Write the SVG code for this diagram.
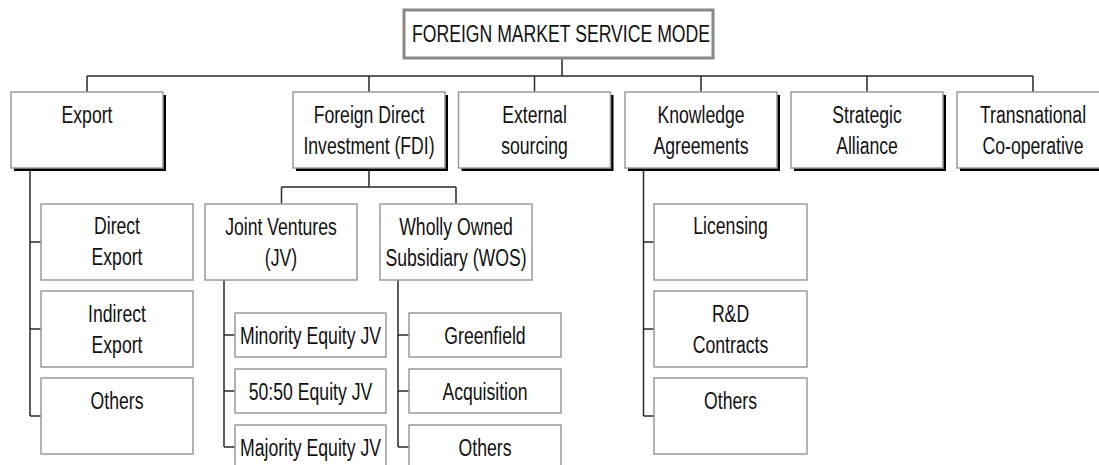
<svg xmlns="http://www.w3.org/2000/svg" width="1099" height="465" viewBox="0 0 1099 465">
<style>
.bg{fill:#fff}
.box{fill:#fff;stroke:#9a9a9a;stroke-width:1.5}
.top{fill:#fff;stroke:#888;stroke-width:3}
.sh{fill:#000}
.ln{fill:none;stroke:#2a2a2a;stroke-width:1.5}
text{font-family:"Liberation Sans",Arial,sans-serif;font-size:24.5px;fill:#111;text-anchor:middle}
</style>
<rect class="bg" x="0" y="0" width="1099" height="465"/>
<g id="connectors">
<path class="ln" d="M562,59V76M87,76H1033M87,76V92M369,76V92M534.5,76V92M701,76V92M867,76V92M1033,76V92"/>
<path class="ln" d="M30,168V416M30,242H41M30,329H41M30,416H41"/>
<path class="ln" d="M369,168V187M281.5,187H456M281.5,187V204M456,187V204"/>
<path class="ln" d="M224,280V447M224,335H235M224,391H235M224,447H235"/>
<path class="ln" d="M398,280V447M398,335H409M398,391H409M398,447H409"/>
<path class="ln" d="M643.5,168V416M643.5,242H654M643.5,329H654M643.5,416H654"/>
</g>
<g id="root">
<rect class="top" x="404" y="10" width="309" height="48"/>
<text transform="translate(561 42) scale(0.72 1)">FOREIGN MARKET SERVICE MODE</text>
</g>
<g id="export">
<rect class="sh" x="14" y="95" width="152" height="76"/>
<rect class="box" x="11" y="92" width="152" height="76"/>
<text transform="translate(87 123) scale(0.72 1)">Export</text>
</g>
<g id="fdi">
<rect class="sh" x="296" y="95" width="152" height="76"/>
<rect class="box" x="293" y="92" width="152" height="76"/>
<text transform="translate(369 123) scale(0.72 1)">Foreign Direct</text>
<text transform="translate(369 154) scale(0.72 1)">Investment (FDI)</text>
</g>
<g id="external">
<rect class="sh" x="461.5" y="95" width="152" height="76"/>
<rect class="box" x="458.5" y="92" width="152" height="76"/>
<text transform="translate(534.5 123) scale(0.72 1)">External</text>
<text transform="translate(534.5 154) scale(0.72 1)">sourcing</text>
</g>
<g id="knowledge">
<rect class="sh" x="628" y="95" width="152" height="76"/>
<rect class="box" x="625" y="92" width="152" height="76"/>
<text transform="translate(701 123) scale(0.72 1)">Knowledge</text>
<text transform="translate(701 154) scale(0.72 1)">Agreements</text>
</g>
<g id="strategic">
<rect class="sh" x="794" y="95" width="152" height="76"/>
<rect class="box" x="791" y="92" width="152" height="76"/>
<text transform="translate(867 123) scale(0.72 1)">Strategic</text>
<text transform="translate(867 154) scale(0.72 1)">Alliance</text>
</g>
<g id="transnational">
<rect class="sh" x="960" y="95" width="152" height="76"/>
<rect class="box" x="957" y="92" width="152" height="76"/>
<text transform="translate(1033 123) scale(0.72 1)">Transnational</text>
<text transform="translate(1033 154) scale(0.72 1)">Co-operative</text>
</g>
<g id="direct-export">
<rect class="box" x="41" y="204" width="152" height="76"/>
<text transform="translate(117 234) scale(0.72 1)">Direct</text>
<text transform="translate(117 265) scale(0.72 1)">Export</text>
</g>
<g id="indirect-export">
<rect class="box" x="41" y="291" width="152" height="76"/>
<text transform="translate(117 322) scale(0.72 1)">Indirect</text>
<text transform="translate(117 353) scale(0.72 1)">Export</text>
</g>
<g id="export-others">
<rect class="box" x="41" y="378" width="152" height="76"/>
<text transform="translate(117 409) scale(0.72 1)">Others</text>
</g>
<g id="jv">
<rect class="box" x="205" y="204" width="152" height="76"/>
<text transform="translate(281 235) scale(0.72 1)">Joint Ventures</text>
<text transform="translate(281 266) scale(0.72 1)">(JV)</text>
</g>
<g id="wos">
<rect class="box" x="380" y="204" width="152" height="76"/>
<text transform="translate(456 235) scale(0.72 1)">Wholly Owned</text>
<text transform="translate(456 266) scale(0.72 1)">Subsidiary (WOS)</text>
</g>
<g id="minority-jv">
<rect class="box" x="235" y="313" width="151" height="44"/>
<text transform="translate(310.5 344) scale(0.72 1)">Minority Equity JV</text>
</g>
<g id="equal-jv">
<rect class="box" x="235" y="369" width="151" height="44"/>
<text transform="translate(310.5 400) scale(0.72 1)">50:50 Equity JV</text>
</g>
<g id="majority-jv">
<rect class="box" x="235" y="425" width="151" height="44"/>
<text transform="translate(310.5 456) scale(0.72 1)">Majority Equity JV</text>
</g>
<g id="greenfield">
<rect class="box" x="409" y="313" width="152" height="44"/>
<text transform="translate(485 344) scale(0.72 1)">Greenfield</text>
</g>
<g id="acquisition">
<rect class="box" x="409" y="369" width="152" height="44"/>
<text transform="translate(485 400) scale(0.72 1)">Acquisition</text>
</g>
<g id="wos-others">
<rect class="box" x="409" y="425" width="152" height="44"/>
<text transform="translate(485 456) scale(0.72 1)">Others</text>
</g>
<g id="licensing">
<rect class="box" x="654" y="204" width="153" height="76"/>
<text transform="translate(730.5 234) scale(0.72 1)">Licensing</text>
</g>
<g id="rd-contracts">
<rect class="box" x="654" y="291" width="153" height="76"/>
<text transform="translate(730.5 322) scale(0.72 1)">R&amp;D</text>
<text transform="translate(730.5 353) scale(0.72 1)">Contracts</text>
</g>
<g id="knowledge-others">
<rect class="box" x="654" y="378" width="153" height="76"/>
<text transform="translate(730.5 409) scale(0.72 1)">Others</text>
</g>
</svg>
